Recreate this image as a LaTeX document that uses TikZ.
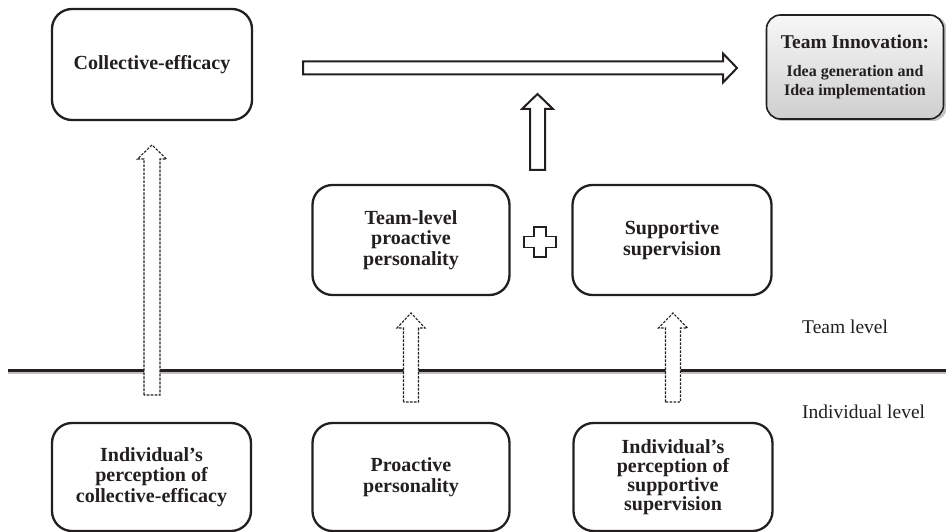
\documentclass[tikz,border=0pt]{standalone}
\usepackage{fontspec}
\setmainfont{Liberation Serif}
\definecolor{ink}{HTML}{231F20}
\tikzset{
  box/.style={draw=ink, line width=2.3pt, rounded corners=20pt, align=center,
    font=\fontsize{20}{20.5}\selectfont\bfseries, text=ink, fill=white, inner sep=2pt},
  dasharrow/.style={draw=ink, line width=1.1pt, dash pattern=on 2.6pt off 1.4pt, fill=white, line join=miter},
  solidarrow/.style={draw=ink, line width=2pt, fill=white, line join=miter},
  lvl/.style={font=\fontsize{19.5}{20}\selectfont, text=ink, anchor=west, inner sep=0pt}
}
% up block arrow: #1 style, #2 cx, #3 y bottom, #4 y tip, #5 shaft half width, #6 head half width, #7 head length
\newcommand\blockup[7]{%
  \path[#1] (#2-#5,#3) -- (#2-#5,#4+#7) -- (#2-#6,#4+#7) -- (#2,#4) -- (#2+#6,#4+#7)
    -- (#2+#5,#4+#7) -- (#2+#5,#3) -- cycle;}
\begin{document}
\begin{tikzpicture}[x=1pt,y=-1pt]
\useasboundingbox (0,0) rectangle (946,532);
\fill[white] (0,0) rectangle (946,532);

% level line
\draw[line width=2pt, gray!50] (8,372.8) -- (946,372.8);
\draw[line width=2.4pt, ink] (8,370.5) -- (946,370.5);
\node[lvl] (team) at (802,327) {Team level};
\node[lvl] (indiv) at (802,412) {Individual level};

% nodes
\node[box, minimum width=200pt, minimum height=111pt] (ce) at (152,64.5) {Collective-efficacy};
\fill[gray!45, rounded corners=14pt] (769,16) rectangle (947,121);
\node[draw=ink, line width=1.6pt, rounded corners=14pt, align=center, text=ink,
  top color=gray!6, bottom color=gray!38,
  minimum width=177pt, minimum height=104pt, inner sep=2pt,
  font=\fontsize{16}{18}\selectfont\bfseries] (ti) at (855,67)
  {{\fontsize{19.5}{20}\selectfont Team Innovation:}\\[10pt]
   Idea generation and\\[1pt]
   Idea implementation};
\node[box, minimum width=197pt, minimum height=110pt] (tlp) at (411,240)
  {Team-level\\ proactive\\ personality};
\node[box, minimum width=199pt, minimum height=110pt] (ss) at (672,240)
  {Supportive\\ supervision};
\node[box, minimum width=199pt, minimum height=108pt] (ipce) at (151.5,477)
  {Individual's\\ perception of\\ collective-efficacy};
\node[box, minimum width=197pt, minimum height=108pt] (pp) at (411,477)
  {Proactive\\ personality};
\node[box, minimum width=199pt, minimum height=108pt, font=\fontsize{20}{19}\selectfont\bfseries] (ipss) at (673,477)
  {Individual's\\ perception of\\ supportive\\ supervision};

% dashed block arrows (individual -> team)
\blockup{dasharrow}{152}{395}{145}{8}{14.5}{14}
\blockup{dasharrow}{411}{402}{313}{7.5}{14}{15}
\blockup{dasharrow}{673}{402}{313}{7.5}{14.5}{15}

% solid up arrow
\blockup{solidarrow}{537.5}{170}{94}{7.5}{15.5}{15}

% horizontal block arrow
\path[solidarrow] (303,61.5) -- (723,61.5) -- (723,53.5) -- (737,68) -- (723,82.5)
  -- (723,74.5) -- (303,74.5) -- cycle;

% plus sign
\path[solidarrow, line width=1.8pt] (534,227) -- (546,227) -- (546,236.5) -- (556,236.5)
  -- (556,247.5) -- (546,247.5) -- (546,257) -- (534,257) -- (534,247.5) -- (524,247.5)
  -- (524,236.5) -- (534,236.5) -- cycle;
\end{tikzpicture}
\end{document}
